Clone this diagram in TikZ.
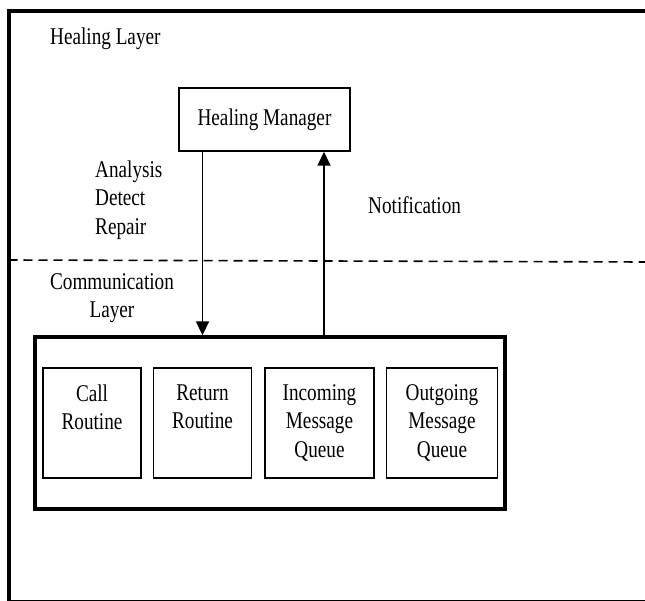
\documentclass[tikz,border=0pt]{standalone}
\usepackage{fontspec}
\setmainfont{Liberation Serif}[FakeStretch=0.8]
\usetikzlibrary{positioning, arrows.meta}

\begin{document}
\begin{tikzpicture}[
        x=1pt, y=-1pt,
        font=\fontsize{24}{28.5}\selectfont,
        lbl/.style={inner sep=0pt, align=center},
        mgr/.style={
            rectangle, draw=black, line width=1.5pt,
            minimum width=171pt, minimum height=63pt, inner sep=0pt
        },
        layerbox/.style={
            rectangle, draw=black, line width=3.4pt,
            minimum width=470pt, minimum height=172pt, inner sep=0pt
        },
        inbox/.style={
            rectangle, draw=black, line width=1.5pt,
            minimum width=98pt, minimum height=110pt, inner sep=0pt
        },
        frame/.style={draw=black, line width=4pt},
        sep/.style={draw=black, line width=1.6pt, dash pattern=on 9pt off 6pt},
        arr/.style={draw=black, line width=1.8pt, -{Triangle[length=14pt, width=13pt]}}
    ]

    \useasboundingbox (0,0) rectangle (645,601);

    % OUTER FRAME
    \draw[frame] (8.5,603) -- (8.5,11) -- (647,11);
    \draw[draw=black, line width=1pt] (8.5,600) -- (645,600);

    % HEALING LAYER
    \node[lbl, anchor=west] (hl) at (50,39) {Healing Layer};
    \node[mgr] (hm) at (264.5,119.5) {Healing Manager};
    \node[lbl, anchor=west, align=left] (adr) at (95,200) {Analysis\\Detect\\Repair};
    \node[lbl, anchor=west] (note) at (368,205) {Notification};

    % LAYER BORDER
    \coordinate (sepl) at (8.5,260);
    \coordinate (sepr) at (645,262);
    \draw[sep] (sepl) -- (sepr);

    % COMMUNICATION LAYER
    \node[lbl] (cl) at (112,298) {Communication\\Layer};
    \node[layerbox] (comm) at (270,423) {};

    \node[inbox, label={[lbl, anchor=north, yshift=-17pt]north:Call\\Routine}] (call) at (92,423) {};
    \node[inbox, right=11pt of call, label={[lbl, anchor=north, yshift=-17pt]north:Return\\Routine}] (ret) {};
    \node[inbox, minimum width=109pt, right=12pt of ret, label={[lbl, anchor=north, yshift=-17pt]north:Incoming\\Message\\Queue}] (inc) {};
    \node[inbox, minimum width=111pt, right=11pt of inc, label={[lbl, anchor=north, yshift=-17pt]north:Outgoing\\Message\\Queue}] (out) {};

    % CONNECTORS
    \draw[arr] (ret.north |- hm.south) -- (ret.north |- comm.north);
    \draw[arr] ([xshift=4.5pt]inc.north |- comm.north) -- ([xshift=4.5pt]inc.north |- hm.south);

\end{tikzpicture}
\end{document}
